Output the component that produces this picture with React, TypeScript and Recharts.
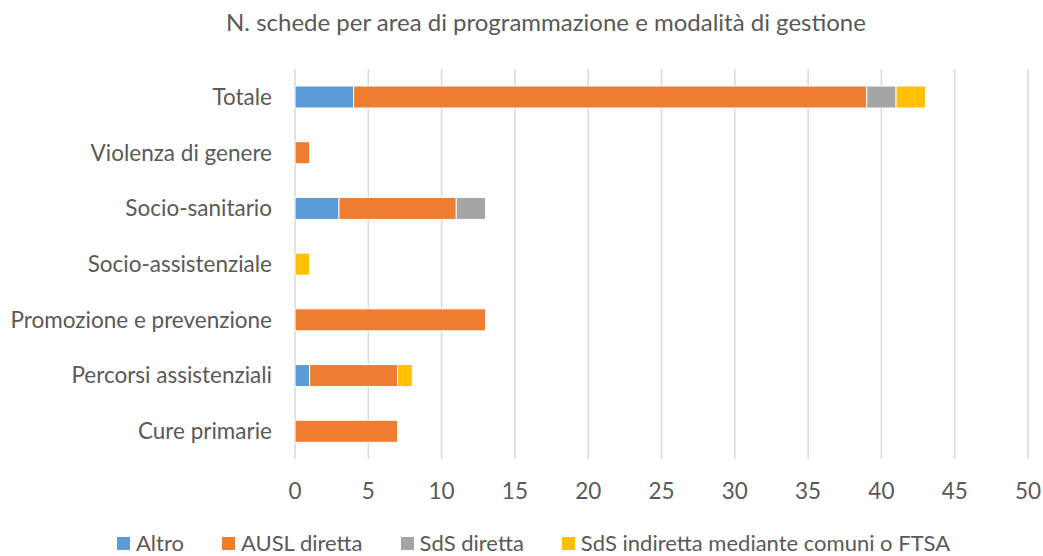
import { BarChart, Bar, XAxis, YAxis, CartesianGrid } from 'recharts';

const categories = [
  'Totale',
  'Violenza di genere',
  'Socio-sanitario',
  'Socio-assistenziale',
  'Promozione e prevenzione',
  'Percorsi assistenziali',
  'Cure primarie',
];

const altro = [4, 0, 3, 0, 0, 1, 0];
const auslDiretta = [35, 1, 8, 0, 13, 6, 7];
const sdsDiretta = [2, 0, 2, 0, 0, 0, 0];
const sdsIndiretta = [2, 0, 0, 1, 0, 1, 0];

const xTicks = [0, 5, 10, 15, 20, 25, 30, 35, 40, 45, 50];

const SERIES = [
  { key: 'altro', name: 'Altro', color: '#5B9BD5' },
  { key: 'ausl', name: 'AUSL diretta', color: '#ED7D31' },
  { key: 'sdsDir', name: 'SdS diretta', color: '#A5A5A5' },
  { key: 'sdsInd', name: 'SdS indiretta mediante comuni o FTSA', color: '#FFC000' },
];

const FONT = 'Lato, "Open Sans", sans-serif';
const TEXT = '#595959';

const data = categories.map((name, i) => ({
  name,
  altro: altro[i],
  ausl: auslDiretta[i],
  sdsDir: sdsDiretta[i],
  sdsInd: sdsIndiretta[i],
}));

export default function App() {
  return (
    <div style={{ position: 'absolute', left: 0, top: 0, width: 1043, height: 556, background: '#fff', fontFamily: FONT }}>
      {/* Title */}
      <div
        style={{
          position: 'absolute',
          left: 146,
          width: 800,
          top: 8,
          textAlign: 'center',
          fontSize: 24,
          color: TEXT,
          lineHeight: '28px',
        }}
      >
        N. schede per area di programmazione e modalità di gestione
      </div>

      <BarChart
        width={1043}
        height={556}
        data={data}
        layout="vertical"
        margin={{ top: 69, right: 15, bottom: 0, left: 0 }}
      >
        <CartesianGrid horizontal={false} stroke="#D9D9D9" strokeWidth={1.5} />
        <XAxis
          type="number"
          domain={[0, 50]}
          ticks={xTicks}
          interval={0}
          axisLine={false}
          tickLine={false}
          tickSize={0}
          tickMargin={24}
          height={97}
          tick={{ fill: TEXT, fontSize: 22.5, fontFamily: FONT }}
        />
        <YAxis
          type="category"
          dataKey="name"
          width={295}
          axisLine={false}
          tickLine={false}
          tickSize={0}
          tickMargin={23}
          interval={0}
          tick={{ fill: TEXT, fontSize: 22.5, fontFamily: FONT }}
        />
        {SERIES.map((s) => (
          <Bar
            key={s.key}
            dataKey={s.key}
            name={s.name}
            stackId="a"
            fill={s.color}
            stroke="#fff"
            strokeWidth={1}
            barSize={22}
            isAnimationActive={false}
          />
        ))}
      </BarChart>

      {/* Legend */}
      <div
        style={{
          position: 'absolute',
          left: 117,
          top: 530,
          display: 'flex',
          alignItems: 'center',
          fontSize: 22,
          color: TEXT,
          lineHeight: '26px',
          whiteSpace: 'nowrap',
        }}
      >
        {SERIES.map((s, i) => (
          <div key={s.key} style={{ display: 'flex', alignItems: 'center', marginLeft: i === 0 ? 0 : 38 }}>
            <span style={{ width: 13, height: 13, background: s.color, display: 'inline-block', marginRight: 6 }} />
            <span>{s.name}</span>
          </div>
        ))}
      </div>
    </div>
  );
}
